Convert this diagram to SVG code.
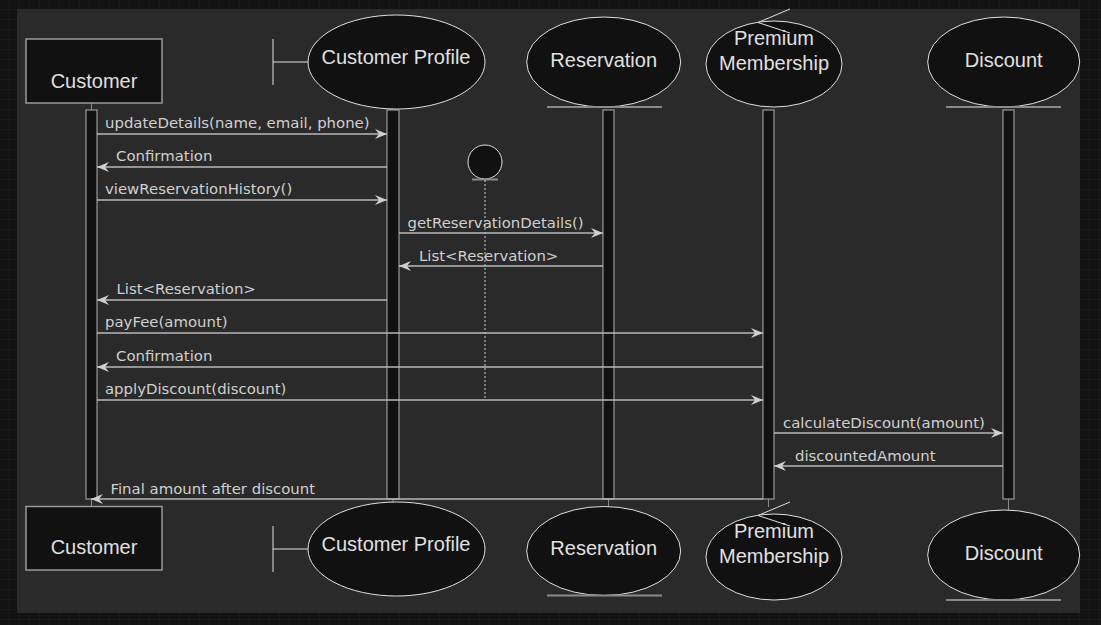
<svg xmlns="http://www.w3.org/2000/svg" width="1101" height="625" viewBox="0 0 1101 625">
  <defs>
    <pattern id="grid" width="10" height="10" patternUnits="userSpaceOnUse">
      <rect width="10" height="10" fill="#121212"/>
      <path d="M10 0 V10 M0 10 H10" stroke="#1f1f1f" stroke-width="1" fill="none"/>
    </pattern>
    <marker id="arr" viewBox="0 0 12 10" refX="12" refY="5" markerWidth="12" markerHeight="10" markerUnits="userSpaceOnUse" orient="auto">
      <path d="M0,0 L12,5 L0,10 L4,5 Z" fill="#cfcfcf"/>
    </marker>
    <style>
      .node { fill: #111111; stroke: #e0e0e0; stroke-width: 1; }
      .box { fill: #111111; stroke: #9a9a9a; stroke-width: 1.5; }
      .bar { fill: #111111; stroke: #9a9a9a; stroke-width: 1.2; }
      .uline { stroke: #8a8a8a; stroke-width: 2; }
      .sym { stroke: #e0e0e0; stroke-width: 1; fill: none; }
      .tick { stroke: #8a8a8a; stroke-width: 1; }
      .lbl { font-family: "Liberation Sans", Arial, sans-serif; font-size: 20px; fill: #e0e0e0; text-anchor: middle; }
      .msg { stroke: #b8b8b8; stroke-width: 1.5; fill: none; marker-end: url(#arr); }
      .mt { font-family: "DejaVu Sans", Verdana, sans-serif; font-size: 14.9px; fill: #d0d0d0; }
    </style>
  </defs>

  <rect x="0" y="0" width="1101" height="625" fill="url(#grid)"/>
  <rect x="17" y="9" width="1063" height="604" fill="#2a2a2a"/>

  <!-- lifeline ticks -->
  <g id="ticks">
    <line class="tick" x1="91.5" y1="103" x2="91.5" y2="110"/>
    <line class="tick" x1="91.5" y1="499" x2="91.5" y2="506"/>
    <line class="tick" x1="393" y1="499" x2="393" y2="502"/>
    <line class="tick" x1="608.5" y1="499" x2="608.5" y2="507"/>
    <line class="tick" x1="768.5" y1="499" x2="768.5" y2="507"/>
    <line class="tick" x1="1008.5" y1="499" x2="1008.5" y2="510"/>
  </g>

  <!-- Activation bars -->
  <g id="bars">
    <rect class="bar" x="86" y="110" width="11" height="389"/>
    <rect class="bar" x="387" y="110" width="12" height="389"/>
    <rect class="bar" x="603" y="110" width="11" height="389"/>
    <rect class="bar" x="763" y="110" width="11" height="389"/>
    <rect class="bar" x="1003" y="110" width="11" height="389"/>
  </g>

  <!-- Top participants -->
  <g id="customer-top">
    <rect class="box" x="26" y="39" width="136" height="64"/>
    <text class="lbl" x="94" y="88">Customer</text>
  </g>
  <g id="profile-top">
    <line class="sym" x1="273" y1="39" x2="273" y2="85"/>
    <line class="sym" x1="273" y1="62" x2="308" y2="62"/>
    <ellipse class="node" cx="396.5" cy="62" rx="88.5" ry="47"/>
    <text class="lbl" x="396" y="64">Customer Profile</text>
  </g>
  <g id="reservation-top">
    <ellipse class="node" cx="603.7" cy="62" rx="77" ry="45"/>
    <line class="uline" x1="547" y1="107" x2="662" y2="107"/>
    <text class="lbl" x="603.7" y="67">Reservation</text>
  </g>
  <g id="premium-top">
    <ellipse class="node" cx="774" cy="64" rx="68" ry="43"/>
    <polyline class="sym" points="790,9 758,22.5 790,33"/>
    <text class="lbl" x="774" y="45">Premium</text>
    <text class="lbl" x="774" y="70">Membership</text>
  </g>
  <g id="discount-top">
    <ellipse class="node" cx="1003.7" cy="62" rx="76" ry="45"/>
    <line class="uline" x1="946" y1="107" x2="1061" y2="107"/>
    <text class="lbl" x="1003.7" y="67">Discount</text>
  </g>

  <!-- Entity (unnamed) -->
  <g id="entity">
    <circle class="node" cx="485" cy="162" r="17"/>
    <line class="uline" x1="472" y1="179.5" x2="498" y2="179.5" stroke-width="1.5"/>
    <line x1="485" y1="180" x2="485" y2="399" stroke="#d0d0d0" stroke-width="1" stroke-dasharray="2,2"/>
  </g>

  <!-- Messages -->
  <g id="connectors">
    <line class="msg" x1="97" y1="134" x2="387" y2="134"/>
    <text class="mt" x="105" y="128">updateDetails(name, email, phone)</text>

    <line class="msg" x1="387" y1="167" x2="97" y2="167"/>
    <text class="mt" x="116" y="161">Confirmation</text>

    <line class="msg" x1="97" y1="200" x2="387" y2="200"/>
    <text class="mt" x="105" y="194">viewReservationHistory()</text>

    <line class="msg" x1="399" y1="233" x2="603" y2="233"/>
    <text class="mt" x="407.5" y="228">getReservationDetails()</text>

    <line class="msg" x1="603" y1="266" x2="399" y2="266"/>
    <text class="mt" x="419" y="261">List&lt;Reservation&gt;</text>

    <line class="msg" x1="387" y1="300" x2="97" y2="300"/>
    <text class="mt" x="116.5" y="294">List&lt;Reservation&gt;</text>

    <line class="msg" x1="97" y1="333" x2="763" y2="333"/>
    <text class="mt" x="105" y="327">payFee(amount)</text>

    <line class="msg" x1="763" y1="367" x2="97" y2="367"/>
    <text class="mt" x="116" y="361">Confirmation</text>

    <line class="msg" x1="97" y1="400" x2="763" y2="400"/>
    <text class="mt" x="105" y="394">applyDiscount(discount)</text>

    <line class="msg" x1="774" y1="433" x2="1003" y2="433"/>
    <text class="mt" x="783" y="428">calculateDiscount(amount)</text>

    <line class="msg" x1="1003" y1="466" x2="774" y2="466"/>
    <text class="mt" x="795" y="461">discountedAmount</text>

    <line class="msg" x1="763" y1="499" x2="91" y2="499"/>
    <text class="mt" x="110.5" y="494">Final amount after discount</text>
  </g>

  <!-- Bottom participants -->
  <g id="customer-bottom">
    <rect class="box" x="26" y="506.5" width="136" height="63.5"/>
    <text class="lbl" x="94" y="554">Customer</text>
  </g>
  <g id="profile-bottom">
    <line class="sym" x1="273" y1="526" x2="273" y2="572"/>
    <line class="sym" x1="273" y1="549" x2="308" y2="549"/>
    <ellipse class="node" cx="396.5" cy="549" rx="88.5" ry="47"/>
    <text class="lbl" x="396" y="551">Customer Profile</text>
  </g>
  <g id="reservation-bottom">
    <ellipse class="node" cx="603.7" cy="551" rx="77" ry="44.5"/>
    <line class="uline" x1="547" y1="595.5" x2="662" y2="595.5"/>
    <text class="lbl" x="603.7" y="555">Reservation</text>
  </g>
  <g id="premium-bottom">
    <ellipse class="node" cx="774" cy="557" rx="68" ry="43"/>
    <polyline class="sym" points="790,502 758,515.5 790,526"/>
    <text class="lbl" x="774" y="538">Premium</text>
    <text class="lbl" x="774" y="563">Membership</text>
  </g>
  <g id="discount-bottom">
    <ellipse class="node" cx="1003.7" cy="555" rx="76" ry="45"/>
    <line class="uline" x1="946" y1="600" x2="1061" y2="600"/>
    <text class="lbl" x="1003.7" y="560">Discount</text>
  </g>
</svg>
